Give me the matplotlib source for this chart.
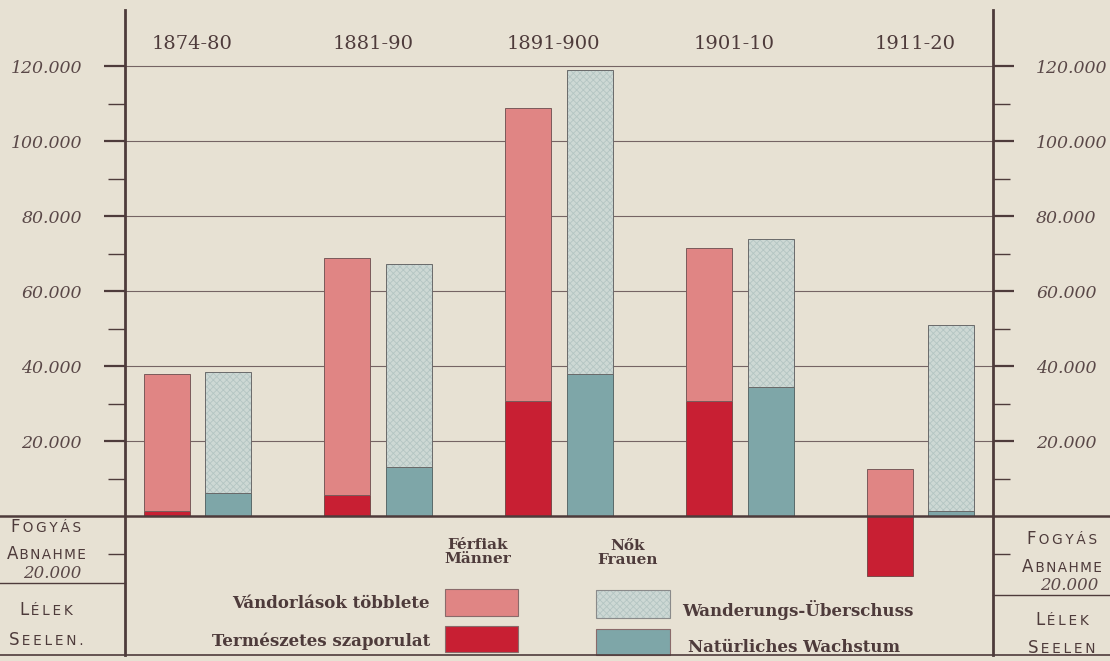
import numpy as np
import matplotlib
matplotlib.use("Agg")
import matplotlib.pyplot as plt
from matplotlib.lines import Line2D
from matplotlib.patches import Rectangle

# időszakok / Perioden
periods = ['1874-80', '1881-90', '1891-900', '1901-10', '1911-20']

# férfiak / Männer
men_natural = np.array([1500, 5700, 30700, 30700, -16000])
men_migration = np.array([36500, 63300, 78200, 40800, 12500])

# nők / Frauen
women_natural = np.array([6300, 13200, 37900, 34400, 1500])
women_migration = np.array([32200, 54000, 81000, 39600, 49400])

y_ticks = [20000, 40000, 60000, 80000, 100000, 120000]
y_labels = ['20.000', '40.000', '60.000', '80.000', '100.000', '120.000']

# színek
paper = '#e7e1d3'
ink = '#4e3b3b'
pink = '#e08584'
red = '#c81f33'
pale = '#cdd8d4'
pale_hatch = '#b4c5c3'
teal = '#7ea6a8'

W, H = 1110, 661
fig = plt.figure(figsize=(W / 100, H / 100), dpi=100, facecolor=paper)
plt.rcParams['hatch.linewidth'] = 0.6


def px(x, y):
    return x / W, 1 - y / H


ax = fig.add_axes([125 / W, 1 - 655 / H, (993 - 125) / W, 645 / H])
ax.set_facecolor(paper)
ax.set_xlim(-0.40, 4.40)
ax.set_ylim(-37000, 135000)

x = np.arange(len(periods))
off = 0.17
bw = 0.255

for v in y_ticks:
    ax.axhline(v, color='#756464', lw=0.8, zorder=1)

# férfiak
ax.bar(x - off, men_natural, bw, color=red, edgecolor='#7a4a4a', lw=0.7, zorder=3)
ax.bar(x - off, men_migration, bw, bottom=np.maximum(men_natural, 0),
       color=pink, edgecolor='#7a5a5a', lw=0.7, zorder=3)

# nők
ax.bar(x + off, women_natural, bw, color=teal, edgecolor='#5a6a6a', lw=0.7, zorder=3)
ax.bar(x + off, women_migration, bw, bottom=women_natural, color=pale,
       edgecolor=pale_hatch, hatch='xxxxx', lw=0, zorder=3)
ax.bar(x + off, women_migration, bw, bottom=women_natural, fill=False,
       edgecolor='#6a6a6a', lw=0.7, zorder=4)

for i, p in enumerate(periods):
    ax.text(i - 0.03, 126000, p, ha='center', va='center', fontsize=14,
            family='DejaVu Serif', color=ink)

for s in ['top', 'bottom']:
    ax.spines[s].set_visible(False)
for s in ['left', 'right']:
    ax.spines[s].set_color(ink)
    ax.spines[s].set_linewidth(2)

ax.set_xticks([])
ax.set_yticks(y_ticks)
ax.set_yticklabels(y_labels)
ax.set_yticks([-10000, 10000, 30000, 50000, 70000, 90000, 110000], minor=True)
ax.yaxis.set_ticks_position('both')
ax.tick_params(axis='y', which='major', length=15, width=1.6, color=ink,
               direction='out', pad=16, labelleft=True, labelright=True,
               labelsize=12.5, labelcolor='#5a4848')
ax.tick_params(axis='y', which='minor', length=12, width=1.0, color=ink,
               direction='out')
for lab in ax.get_yticklabels():
    lab.set_fontstyle('italic')
    lab.set_family('DejaVu Serif')

# vízszintes vonalak a teljes szélességben
zero_y = ax.transData.transform((0, 0))[1] / H
fig.add_artist(Line2D([0, 1], [zero_y, zero_y], color=ink, lw=1.8))
fig.add_artist(Line2D([0, 1], [1 - 655 / H, 1 - 655 / H], color=ink, lw=1.2))
fig.add_artist(Line2D([0, 125 / W], [1 - 583 / H, 1 - 583 / H], color=ink, lw=1.0))
fig.add_artist(Line2D([993 / W, 1], [1 - 595 / H, 1 - 595 / H], color=ink, lw=1.0))

renderer = fig.canvas.get_renderer()


def small_caps(xp, yp, word, big=12, small=9.8, sep='\u2009'):
    rest = sep.join(word[1:])
    t1 = fig.text(0, 0, word[0], fontsize=big, color=ink, family='DejaVu Sans',
                  va='baseline')
    t2 = fig.text(0, 0, sep + rest, fontsize=small, color=ink,
                  family='DejaVu Sans', va='baseline')
    w1 = t1.get_window_extent(renderer).width / W
    w2 = t2.get_window_extent(renderer).width / W
    x0, y0 = px(xp, yp)
    start = x0 - (w1 + w2) / 2
    t1.set_position((start, y0))
    t2.set_position((start + w1, y0))


for xc, ys in [(46, [532, 559, 615, 645]), (1062, [544, 572, 625, 653])]:
    small_caps(xc, ys[0], 'FOGYÁS')
    small_caps(xc, ys[1], 'ABNAHME', sep='\u200a')
    small_caps(xc, ys[2], 'LÉLEK')
    small_caps(xc, ys[3], 'SEELEN.' if xc < 500 else 'SEELEN')

fig.text(*px(52, 574), '20.000', ha='center', va='center', fontsize=12,
         style='italic', family='DejaVu Serif', color='#5a4848')
fig.text(*px(1069, 585), '20.000', ha='center', va='center', fontsize=12,
         style='italic', family='DejaVu Serif', color='#5a4848')

# jelmagyarázat
bold = dict(family='DejaVu Serif', fontweight='bold', color=ink)
fig.text(*px(478, 552), 'Férfiak\nMänner', ha='center', va='center',
         fontsize=11, linespacing=0.95, **bold)
fig.text(*px(628, 553), 'Nők\nFrauen', ha='center', va='center',
         fontsize=11, linespacing=0.95, **bold)


def patch(x0, y0, x1, y1, fc, hatch=None, hc=None):
    a, b = px(x0, y1)
    w, h = (x1 - x0) / W, (y1 - y0) / H
    if hatch:
        fig.add_artist(Rectangle((a, b), w, h, facecolor=fc, edgecolor=hc,
                                 hatch=hatch, lw=0))
        fig.add_artist(Rectangle((a, b), w, h, fill=False, edgecolor='#8a8a8a',
                                 lw=0.8))
    else:
        fig.add_artist(Rectangle((a, b), w, h, facecolor=fc, edgecolor='#8a6a6a',
                                 lw=0.8))


patch(445, 589, 518, 616, pink)
patch(445, 626, 518, 652, red)
patch(596, 590, 670, 618, pale, 'xxxxx', pale_hatch)
patch(596, 629, 670, 655, teal)

fig.text(*px(430, 604), 'Vándorlások többlete', ha='right', va='center',
         fontsize=12, **bold)
fig.text(*px(430, 641), 'Természetes szaporulat', ha='right', va='center',
         fontsize=12, **bold)
fig.text(*px(682, 610), 'Wanderungs-Überschuss', ha='left', va='center',
         fontsize=12, **bold)
fig.text(*px(688, 648), 'Natürliches Wachstum', ha='left', va='center',
         fontsize=12, **bold)

fig.savefig('out.png', dpi=100, facecolor=paper)
